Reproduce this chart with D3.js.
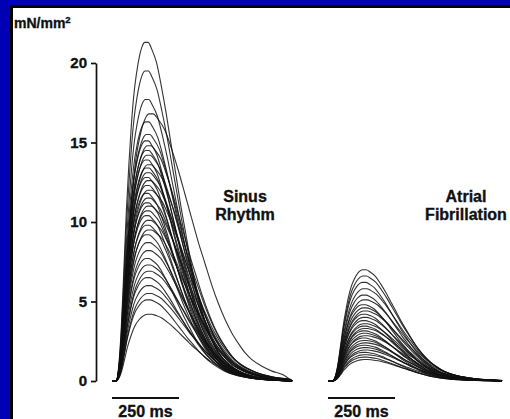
<!DOCTYPE html>
<html><head><meta charset="utf-8">
<script src="https://cdn.jsdelivr.net/npm/d3@7"></script>
<style>
html,body{margin:0;padding:0;background:#0000b4;}
svg{display:block;}
text{font-family:"Liberation Sans",Arial,sans-serif;font-weight:bold;fill:#111;stroke:#111;stroke-width:0.35px;}
</style></head>
<body>
<svg id="c" width="510" height="419"></svg>
<script>
// ---- data ----
const yTicks = [0, 5, 10, 15, 20];
const groupLabels = [["Sinus", "Rhythm"], ["Atrial", "Fibrillation"]];
const scaleBarLabel = "250 ms";
// peak tension of each sinus-rhythm twitch (mN/mm²)
const sinusPeaks = [21.3, 19.5, 17.7, 16.8, 16.3, 15.5, 15.1, 14.8, 14.5, 14.2, 13.9, 13.6, 13.4, 13.1,
  12.8, 12.6, 12.3, 12.0, 11.8, 11.5, 11.2, 11.0, 10.7, 10.4, 10.1, 9.8, 9.5, 9.2, 8.7, 8.2,
  7.7, 7.3, 6.9, 6.5, 6.0, 5.5, 5.1, 4.2];
// relative duration of each sinus-rhythm twitch
const sinusWidths = [0.9, 0.92, 0.94, 1.25, 0.95, 1.02, 0.92, 1.1, 0.96, 1.05, 0.92, 1.12, 0.97, 1.04,
  0.93, 1.1, 0.98, 1.14, 0.92, 1.06, 0.96, 1.12, 1.0, 0.94, 1.1, 0.98, 1.14, 0.96, 1.04, 1.08,
  0.97, 1.06, 1.12, 1.02, 1.08, 1.12, 1.05, 1.14];
// peak tension of each atrial-fibrillation twitch (mN/mm²)
const afPeaks = [7.0, 6.6, 6.2, 5.8, 5.4, 5.1, 4.8, 4.6, 4.4, 4.2, 4.0, 3.8, 3.6, 3.45, 3.3,
  3.15, 3.0, 2.85, 2.7, 2.55, 2.4, 2.25, 2.1, 1.95, 1.8, 1.65, 1.5, 1.35];
const afWidths = [1.0, 1.02, 0.98, 1.05, 1.0, 1.08, 0.96, 1.04, 1.1, 1.0, 1.06, 0.98, 1.08, 1.02, 1.1,
  1.0, 1.05, 1.12, 0.98, 1.06, 1.1, 1.02, 1.08, 1.12, 1.0, 1.1, 1.05, 1.12];
// normalised twitch shape: time from onset (ms) and fraction of peak
const shapeT =   [0, 10, 20, 30, 40, 50, 60, 70, 80, 90, 100, 112, 125, 140, 160, 180, 200, 220, 240, 260,
  280, 300, 320, 340, 360, 380, 400, 420, 450, 480, 510, 540, 580, 620, 660, 700];
const shapeRel = [0, 0.04, 0.15, 0.32, 0.50, 0.64, 0.76, 0.85, 0.91, 0.955, 0.985, 1.0, 1.0, 0.98, 0.94, 0.87,
  0.79, 0.70, 0.61, 0.52, 0.44, 0.36, 0.29, 0.23, 0.18, 0.14, 0.105, 0.08, 0.055, 0.037, 0.025, 0.016,
  0.009, 0.005, 0.002, 0];
const peakMs = 120;            // time of peak in the shape
const onsetMs = [15, 17];      // onset of contraction after trace start
const traceEndMs = [672, 649]; // length of each recording

// ---- drawing ----
const svg = d3.select("#c");
svg.append("rect").attr("x", 11.5).attr("y", 6.5).attr("width", 510).attr("height", 420)
  .attr("fill", "#fff").attr("stroke", "#000").attr("stroke-width", 3);

const y = d3.scaleLinear().domain([0, 20]).range([381, 63]);
const xs = [
  d3.scaleLinear().domain([0, 250]).range([112, 179]),
  d3.scaleLinear().domain([0, 250]).range([328, 395])
];

const axis = d3.axisLeft(y).tickValues(yTicks).tickSize(5).tickSizeOuter(0).tickPadding(4);
const ag = svg.append("g").attr("transform", "translate(96,0)").call(axis);
ag.select(".domain").attr("stroke", "#111").attr("stroke-width", 1.7);
ag.selectAll(".tick line").attr("stroke", "#111").attr("stroke-width", 1.7);
ag.selectAll(".tick text").style("font-family", "'Liberation Sans',Arial,sans-serif")
  .style("font-weight", "bold").style("font-size", "15px").attr("fill", "#111")
  .attr("stroke", "#111").attr("stroke-width", 0.35);

const unit = svg.append("text").attr("x", 14).attr("y", 28).style("font-size", "14px");
unit.append("tspan").text("mN/mm");
unit.append("tspan").text("2").attr("dy", -5).style("font-size", "9.5px");

function trace(gi, peak, w) {
  const x = xs[gi];
  const rise = 1 + (w - 1) * 0.4;
  const pts = [[0, 0], [onsetMs[gi], 0]];
  for (let i = 1; i < shapeT.length; i++) {
    const s = shapeT[i];
    const tt = onsetMs[gi] + (s <= peakMs ? s * rise : peakMs * rise + (s - peakMs) * w);
    if (tt >= traceEndMs[gi]) break;
    pts.push([tt, shapeRel[i] * peak]);
  }
  pts.push([traceEndMs[gi], 0]);
  return d3.line().x(d => x(d[0])).y(d => y(d[1])).curve(d3.curveMonotoneX)(pts);
}

const groups = [[sinusPeaks, sinusWidths], [afPeaks, afWidths]];
groups.forEach(([peaks, widths], gi) => {
  const g = svg.append("g");
  peaks.forEach((p, i) => {
    g.append("path").attr("d", trace(gi, p, widths[i]))
      .attr("fill", "none").attr("stroke", "#111").attr("stroke-width", 1.1)
      .attr("stroke-opacity", 0.85);
  });
  const x = xs[gi];
  svg.append("line").attr("x1", x(0)).attr("x2", x(250)).attr("y1", 398).attr("y2", 398)
    .attr("stroke", "#111").attr("stroke-width", 2);
  svg.append("text").attr("x", (x(0) + x(250)) / 2).attr("y", 417).attr("text-anchor", "middle")
    .style("font-size", "16px").text(scaleBarLabel);
});

const labelX = [245, 466];
groupLabels.forEach((lines, gi) => {
  lines.forEach((s, li) => {
    svg.append("text").attr("x", labelX[gi]).attr("y", 202 + li * 18).attr("text-anchor", "middle")
      .style("font-size", "16px").text(s);
  });
});
</script>
</body></html>
